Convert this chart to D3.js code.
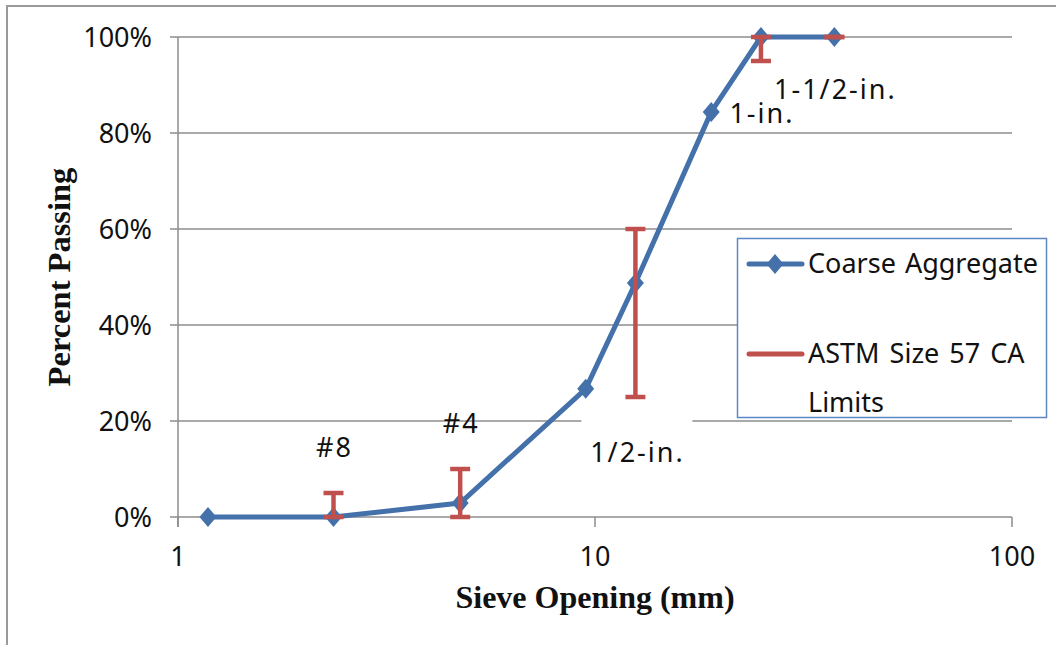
<!DOCTYPE html>
<html>
<head>
<meta charset="utf-8">
<script src="https://cdn.jsdelivr.net/npm/d3@7/dist/d3.min.js"></script>
<style>
  html, body { margin: 0; padding: 0; background: #fff; }
  svg { display: block; }
</style>
</head>
<body>
<svg id="chart" width="1056" height="645"></svg>
<script>
// Sieve openings (mm) and percent passing for the coarse aggregate
const sieveSizes = [1.18, 2.36, 4.75, 9.5, 12.5, 19, 25, 37.5];
const percentPassing = [0, 0, 0.029, 0.267, 0.4875, 0.844, 1.0, 1.0];

// ASTM C33 Size 57 grading limits (lower / upper) at each controlled sieve
const limitSieves = [2.36, 4.75, 12.5, 25, 37.5];
const limitLower = [0, 0, 0.25, 0.95, 1.0];
const limitUpper = [0.05, 0.10, 0.60, 1.0, 1.0];

// Sieve designations written beside the curve
const sieveLabels = ["#8", "#4", "1/2-in.", "1-in.", "1-1/2-in."];
const sieveLabelSizes = [2.36, 4.75, 12.5, 25, 37.5];

// Axis ticks
const xTicks = [1, 10, 100];
const yTicks = [0, 0.2, 0.4, 0.6, 0.8, 1.0];

const seriesNames = ["Coarse Aggregate", "ASTM Size 57 CA Limits"];

// Label placement (baseline height in percent, horizontal nudge in px, white box)
const labelPlacement = [
  { y: 0.125, dx: 1, box: false },
  { y: 0.175, dx: 1, box: false },
  { y: 0.115, dx: 2, box: true },
  { y: 0.82, dx: 1, box: false },
  { y: 0.87, dx: 1, box: false }
];

const BLUE = "#4571ab";
const RED = "#c0504d";
const GRID = "#8c8c8c";
const FONT = "'Noto Sans', 'DejaVu Sans', sans-serif";
const SERIF = "'Liberation Serif', 'Times New Roman', serif";
const FS = 27;

const svg = d3.select("#chart");

// Outer chart frame (top and left edges visible)
svg.append("path")
  .attr("d", "M7,645 V6 H1056")
  .attr("fill", "none")
  .attr("stroke", "#9a9a9a")
  .attr("stroke-width", 2);

const x = d3.scaleLog().domain([1, 100]).range([178, 1012]);
const y = d3.scaleLinear().domain([0, 1]).range([517, 37]);

// Horizontal gridlines with short ticks to the left of the axis
svg.append("g").selectAll("line")
  .data(yTicks)
  .join("line")
  .attr("x1", 170).attr("x2", 1012)
  .attr("y1", d => y(d)).attr("y2", d => y(d))
  .attr("stroke", GRID).attr("stroke-width", 1.5);

// Vertical axis line
svg.append("line")
  .attr("x1", x(1)).attr("x2", x(1))
  .attr("y1", y(1)).attr("y2", y(0) + 10)
  .attr("stroke", GRID).attr("stroke-width", 1.5);

// Tick marks below the x axis
svg.append("g").selectAll("line")
  .data(xTicks)
  .join("line")
  .attr("x1", d => x(d)).attr("x2", d => x(d))
  .attr("y1", y(0)).attr("y2", y(0) + 10)
  .attr("stroke", GRID).attr("stroke-width", 1.5);

// Y tick labels
svg.append("g").selectAll("text")
  .data(yTicks)
  .join("text")
  .attr("x", 152)
  .attr("y", d => y(d))
  .attr("dy", "0.36em")
  .attr("text-anchor", "end")
  .attr("font-family", FONT)
  .attr("font-size", FS)
  .attr("fill", "#111")
  .text(d => d3.format(".0%")(d));

// X tick labels
svg.append("g").selectAll("text")
  .data(xTicks)
  .join("text")
  .attr("x", d => x(d))
  .attr("y", 566)
  .attr("text-anchor", "middle")
  .attr("font-family", FONT)
  .attr("font-size", FS)
  .attr("fill", "#111")
  .text(d => d);

// Axis titles
svg.append("text")
  .attr("x", (x(1) + x(100)) / 2)
  .attr("y", 608)
  .attr("text-anchor", "middle")
  .attr("font-family", SERIF)
  .attr("font-weight", "bold")
  .attr("font-size", 32)
  .attr("fill", "#111")
  .text("Sieve Opening (mm)");

svg.append("text")
  .attr("transform", `translate(70,${(y(0) + y(1)) / 2}) rotate(-90)`)
  .attr("text-anchor", "middle")
  .attr("font-family", SERIF)
  .attr("font-weight", "bold")
  .attr("font-size", 32.5)
  .attr("fill", "#111")
  .text("Percent Passing");

// Coarse aggregate gradation curve
const curve = sieveSizes.map((s, i) => [s, percentPassing[i]]);
svg.append("path")
  .datum(curve)
  .attr("fill", "none")
  .attr("stroke", BLUE)
  .attr("stroke-width", 5)
  .attr("stroke-linejoin", "round")
  .attr("d", d3.line().x(d => x(d[0])).y(d => y(d[1])));

// Diamond marker, slightly taller than wide
const diamond = "M0,-10 L8.5,0 L0,10 L-8.5,0 Z";
svg.append("g").selectAll("path")
  .data(curve)
  .join("path")
  .attr("transform", d => `translate(${x(d[0])},${y(d[1])})`)
  .attr("d", diamond)
  .attr("fill", BLUE);

// Grading limit bars
const limits = limitSieves.map((s, i) => ({ s, lo: limitLower[i], hi: limitUpper[i] }));
const bars = svg.append("g")
  .attr("stroke", RED)
  .attr("stroke-width", 4.5)
  .attr("fill", "none");
bars.selectAll("line.stem")
  .data(limits)
  .join("line")
  .attr("class", "stem")
  .attr("x1", d => x(d.s)).attr("x2", d => x(d.s))
  .attr("y1", d => y(d.lo)).attr("y2", d => y(d.hi));
bars.selectAll("line.capLo")
  .data(limits)
  .join("line")
  .attr("class", "capLo")
  .attr("x1", d => x(d.s) - 10).attr("x2", d => x(d.s) + 10)
  .attr("y1", d => y(d.lo)).attr("y2", d => y(d.lo));
bars.selectAll("line.capHi")
  .data(limits)
  .join("line")
  .attr("class", "capHi")
  .attr("x1", d => x(d.s) - 10).attr("x2", d => x(d.s) + 10)
  .attr("y1", d => y(d.hi)).attr("y2", d => y(d.hi));

// Sieve designation labels
const labels = svg.append("g");
sieveLabels.forEach((t, i) => {
  const p = labelPlacement[i];
  const cx = x(sieveLabelSizes[i]) + p.dx;
  const by = y(p.y);
  if (p.box) {
    labels.append("rect")
      .attr("x", cx - 56).attr("y", by - 58)
      .attr("width", 111).attr("height", 70)
      .attr("fill", "#fff");
  }
  labels.append("text")
    .attr("x", cx)
    .attr("y", by)
    .attr("text-anchor", "middle")
    .attr("font-family", FONT)
    .attr("font-size", FS)
    .attr("letter-spacing", 2)
    .attr("fill", "#111")
    .text(t);
});

// Legend
const lg = svg.append("g");
lg.append("rect")
  .attr("x", 737.5).attr("y", 238.5)
  .attr("width", 309).attr("height", 179)
  .attr("fill", "#fff")
  .attr("stroke", "#5b87c5")
  .attr("stroke-width", 1.5);

lg.append("line")
  .attr("x1", 749).attr("x2", 802)
  .attr("y1", 264).attr("y2", 264)
  .attr("stroke", BLUE).attr("stroke-width", 5).attr("stroke-linecap", "round");
lg.append("path")
  .attr("transform", "translate(775,264)")
  .attr("d", diamond)
  .attr("fill", BLUE);
lg.append("text")
  .attr("x", 808).attr("y", 273)
  .attr("font-family", FONT).attr("font-size", FS).attr("fill", "#111")
  .attr("word-spacing", 2)
  .text(seriesNames[0]);

lg.append("line")
  .attr("x1", 749).attr("x2", 802)
  .attr("y1", 354).attr("y2", 354)
  .attr("stroke", RED).attr("stroke-width", 5).attr("stroke-linecap", "round");
const t2 = lg.append("text")
  .attr("font-family", FONT).attr("font-size", FS).attr("fill", "#111")
  .attr("word-spacing", 3);
t2.append("tspan").attr("x", 808).attr("y", 363).text("ASTM Size 57 CA");
t2.append("tspan").attr("x", 808).attr("y", 412).text("Limits");
</script>
</body>
</html>
